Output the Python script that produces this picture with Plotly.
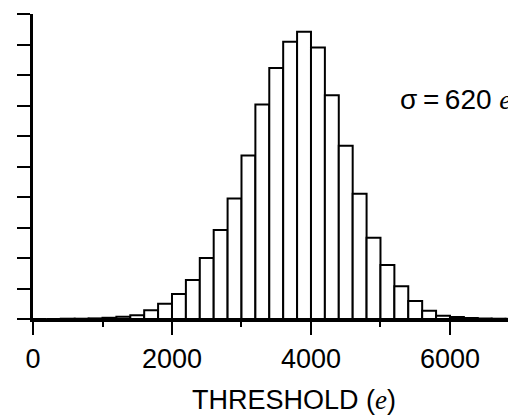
import plotly.graph_objects as go

# Histogram data (bin width 200 e), counts in arbitrary units (y-axis tick = 1)
bin_start = 0
bin_width = 200
counts = [0, 0, 0.01, 0.01, 0.02, 0.04, 0.07, 0.12, 0.29, 0.50,
          0.82, 1.28, 2.00, 2.92, 3.95, 5.36, 7.03, 8.23, 9.09, 9.42,
          8.90, 7.34, 5.68, 4.11, 2.66, 1.77, 1.07, 0.59, 0.27, 0.11,
          0.066, 0.033, 0.016, 0.01, 0.005]
x_tick_vals = [0, 2000, 4000, 6000]
x_tick_text = ["0", "2000", "4000", "6000"]
y_tick_vals = list(range(0, 11))
sigma_label = "σ\u2009=\u2009620 <span style='font-family:Liberation Serif'><i>e</i></span>"
x_title = "THRESHOLD (<span style='font-family:Liberation Serif'><i>e</i></span>)"

centers = [bin_start + bin_width * (i + 0.5) for i in range(len(counts))]

fig = go.Figure(go.Bar(
    x=centers, y=counts, width=bin_width,
    marker=dict(color="white", line=dict(color="black", width=2)),
    hoverinfo="skip",
))

font_main = "Liberation Sans, Arial, sans-serif"

fig.update_layout(
    width=508, height=416,
    margin=dict(l=33, r=0, t=14, b=97, pad=0),
    paper_bgcolor="white", plot_bgcolor="white",
    showlegend=False,
    font=dict(family=font_main, size=27, color="black"),
    xaxis=dict(
        range=[0, 6835], showgrid=False, zeroline=False,
        showline=True, linecolor="black", linewidth=3,
        tickmode="array", tickvals=x_tick_vals, ticktext=x_tick_text,
        ticks="outside", ticklen=13, tickwidth=2, tickcolor="black",
        ticklabelstandoff=1,
        minor=dict(dtick=1000, tick0=0, ticks="outside", ticklen=5,
                   tickwidth=2, tickcolor="black"),
        tickfont=dict(size=27, family=font_main),
    ),
    yaxis=dict(
        range=[0, 10], showgrid=False, zeroline=False,
        showline=True, linecolor="black", linewidth=2.5,
        tickmode="array", tickvals=y_tick_vals,
        ticks="outside", ticklen=13, tickwidth=2, tickcolor="black",
        showticklabels=False,
    ),
    annotations=[
        dict(x=5250, y=7.2, xref="x", yref="y", text=sigma_label,
             showarrow=False, xanchor="left", yanchor="middle",
             font=dict(size=28, family=font_main)),
        dict(x=3750, y=-0.265, xref="x", yref="paper", text=x_title,
             showarrow=False, xanchor="center", yanchor="middle",
             font=dict(size=27, family=font_main)),
    ],
)

fig.write_html("out.html")
